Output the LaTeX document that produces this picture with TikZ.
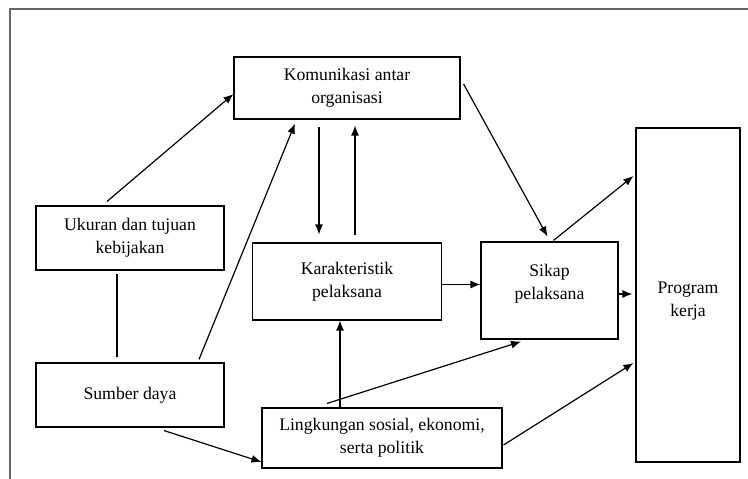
\documentclass[tikz,border=0pt]{standalone}
\usepackage{fontspec}
\setmainfont{Liberation Serif}
\newfontfamily\diagfont{Liberation Serif}
\usetikzlibrary{arrows.meta}
\begin{document}
\begin{tikzpicture}[x=1pt,y=-1pt,
  box/.style={draw,line width=1.1pt,inner sep=0pt,align=center,font=\diagfont\fontsize{17.7}{23}\selectfont},
  lbl/.style={inner sep=0pt,align=center,font=\diagfont\fontsize{17.7}{23}\selectfont},
  arr/.style={line width=1.2pt,-{Latex[length=10pt,width=8pt]}},
  ln/.style={line width=1.1pt}]
\useasboundingbox (0,0) rectangle (748,479);
\draw[line width=1.4pt,black!60] (10,479) -- (10,9) -- (748,9);
\node[box,minimum width=226pt,minimum height=62pt] (kom) at (347,88) {Komunikasi antar\\organisasi};
\node[box,minimum width=189pt,minimum height=77pt] (kar) at (347,281.5) {Karakteristik\\pelaksana};
\node[box,minimum width=137pt,minimum height=97pt] (sik) at (549.5,290.5) {};
\node[lbl] (sikt) at (549.5,284) {Sikap\\pelaksana};
\node[box,minimum width=188pt,minimum height=64pt] (ukr) at (130,238) {Ukuran dan tujuan\\kebijakan};
\node[box,minimum width=188pt,minimum height=64pt] (sum) at (130,395) {Sumber daya};
\node[box,minimum width=240pt,minimum height=60pt] (lin) at (382,438) {Lingkungan sosial, ekonomi,\\serta politik};
\node[box,minimum width=104pt,minimum height=334pt] (prg) at (688,295) {};
\node[lbl] (prgt) at (688,301) {Program\\kerja};
% connectors
\draw[arr] ([xshift=-23pt,yshift=4pt]ukr.north) -- ([yshift=-6pt]kom.west);
\draw[arr] ([xshift=69pt,yshift=3pt]sum.north) -- ([xshift=-52pt,yshift=-4pt]kom.south);
\draw[ln] ([xshift=-13pt,yshift=-3pt]ukr.south) -- ([xshift=-13pt,yshift=5pt]sum.north);
\draw[arr] ([xshift=-28pt,yshift=-7pt]kom.south) -- ([xshift=-28pt,yshift=8pt]kar.north);
\draw[arr] ([xshift=8pt,yshift=7pt]kar.north) -- ([xshift=8pt,yshift=-6pt]kom.south);
\draw[arr] ([yshift=-3pt]kar.east) -- ([yshift=-3pt]kar.east -| sik.west);
\draw[arr] ([xshift=3pt,yshift=4pt]kom.east) -- ([xshift=-2pt,yshift=5pt]sik.north);
\draw[arr] ([xshift=4pt,yshift=1pt]sik.north) -- ([xshift=-2pt,yshift=119pt]prg.west);
\draw[arr] ([yshift=-3.5pt]sik.east) -- ([xshift=-3pt,yshift=-3.5pt]sik.east -| prg.west);
\draw[arr] ([xshift=-42pt]lin.north) -- ([xshift=-42pt]lin.north |- kar.south);
\draw[arr] ([xshift=-55pt,yshift=4pt]lin.north) -- ([xshift=-28.5pt,yshift=-2pt]sik.south);
\draw[arr] ([xshift=1pt,yshift=-7pt]lin.east) -- ([xshift=-2pt,yshift=-68pt]prg.west);
\draw[arr] ([xshift=34pt,yshift=-3pt]sum.south) -- ([yshift=-24pt]lin.west);
\end{tikzpicture}
\end{document}
